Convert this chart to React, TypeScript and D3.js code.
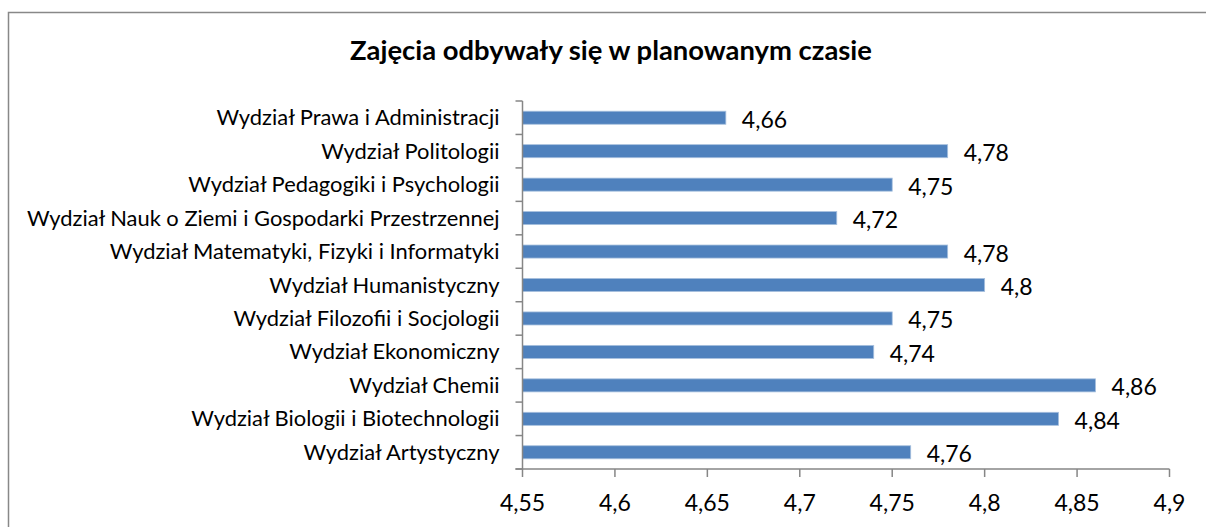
import React from "react";
import * as d3 from "d3";

const categories = [
  "Wydział Prawa i Administracji",
  "Wydział Politologii",
  "Wydział Pedagogiki i Psychologii",
  "Wydział Nauk o Ziemi i Gospodarki Przestrzennej",
  "Wydział Matematyki, Fizyki i Informatyki",
  "Wydział Humanistyczny",
  "Wydział Filozofii i Socjologii",
  "Wydział Ekonomiczny",
  "Wydział Chemii",
  "Wydział Biologii i Biotechnologii",
  "Wydział Artystyczny",
];
const values = [4.66, 4.78, 4.75, 4.72, 4.78, 4.8, 4.75, 4.74, 4.86, 4.84, 4.76];
const xTicks = [4.55, 4.6, 4.65, 4.7, 4.75, 4.8, 4.85, 4.9];
const title = "Zajęcia odbywały się w planowanym czasie";

const W = 1206;
const H = 527;
const left = 522.5;
const right = 1169.5;
const top = 101;
const bottom = 469;
const font = "Lato, 'Open Sans', sans-serif";
const fmt = (v: number) => String(v).replace(".", ",");

export default function App() {
  const x = d3.scaleLinear().domain([4.55, 4.9]).range([left, right]);
  const y = d3.scaleBand<string>().domain(categories).range([top, bottom]).paddingInner(0.61).paddingOuter(0.305);
  const step = y.step();
  const axisColor = "#868686";
  return (
    <svg width={W} height={H} style={{ position: "absolute", left: 0, top: 0 }} xmlns="http://www.w3.org/2000/svg">
      <rect x={0} y={0} width={W} height={H} fill="#fff" />
      <rect x={8.5} y={12.5} width={1300} height={700} fill="#fff" stroke="#888" strokeWidth={1.5} />
      <text x={611} y={60} textAnchor="middle" fontFamily={font} fontWeight="bold" fontSize={27.4} fill="#000">
        {title}
      </text>
      {categories.map((c, i) => (
        <g key={c}>
          <rect
            x={x(4.55)}
            y={y(c)!}
            width={x(values[i]) - x(4.55)}
            height={y.bandwidth()}
            fill="#4F81BD"
            stroke="#A7C0DE"
            strokeWidth={0.8}
          />
          <text
            x={x(values[i]) + 16}
            y={y(c)! + y.bandwidth() / 2 + 10}
            fontFamily={font}
            fontSize={23}
            fill="#000"
          >
            {fmt(values[i])}
          </text>
          <text
            x={499.5}
            y={y(c)! + y.bandwidth() / 2 + 7.5}
            textAnchor="end"
            fontFamily={font}
            fontSize={21.9}
            fill="#000"
          >
            {c}
          </text>
        </g>
      ))}
      <line x1={left} x2={left} y1={top} y2={bottom} stroke={axisColor} strokeWidth={1.5} />
      {d3.range(categories.length + 1).map((i) => (
        <line key={"yt" + i} x1={left - 7} x2={left} y1={top + i * step} y2={top + i * step} stroke={axisColor} strokeWidth={1.5} />
      ))}
      <line x1={left - 7} x2={right} y1={bottom} y2={bottom} stroke={axisColor} strokeWidth={1.5} />
      {xTicks.map((t) => (
        <g key={"xt" + t}>
          <line x1={x(t)} x2={x(t)} y1={bottom} y2={bottom + 8} stroke={axisColor} strokeWidth={1.5} />
          <text x={x(t)} y={511} textAnchor="middle" fontFamily={font} fontSize={23} fill="#000">
            {fmt(t)}
          </text>
        </g>
      ))}
    </svg>
  );
}
